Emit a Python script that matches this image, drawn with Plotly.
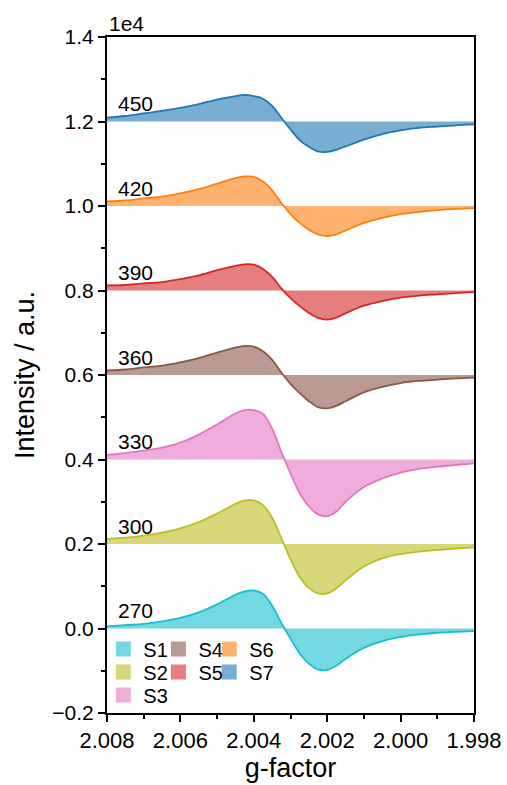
import plotly.graph_objects as go

# g-factor sample points (shared by all spectra)
g = [2.0080, 2.0075, 2.0070, 2.0065, 2.0060, 2.0055, 2.0050, 2.0045, 2.00425, 2.0040,
     2.00375, 2.0035, 2.00325, 2.0030, 2.00275, 2.0025, 2.00225, 2.0020, 2.00175, 2.0015,
     2.0010, 2.0005, 2.0000, 1.9995, 1.9990, 1.9985, 1.9980]

# intensity (x1e4) relative to each spectrum's own baseline
S1 = [0.005, 0.008, 0.011, 0.017, 0.025, 0.038, 0.057, 0.080, 0.088, 0.090,
      0.082, 0.054, 0.013, -0.024, -0.059, -0.083, -0.097, -0.098, -0.088, -0.072,
      -0.046, -0.030, -0.020, -0.014, -0.010, -0.008, -0.006]
S2 = [0.012, 0.015, 0.020, 0.027, 0.037, 0.052, 0.072, 0.095, 0.103, 0.103,
      0.092, 0.062, 0.014, -0.036, -0.078, -0.104, -0.117, -0.117, -0.105, -0.086,
      -0.053, -0.034, -0.024, -0.018, -0.014, -0.011, -0.008]
S3 = [0.011, 0.015, 0.021, 0.028, 0.040, 0.059, 0.083, 0.109, 0.117, 0.117,
      0.108, 0.073, 0.018, -0.033, -0.080, -0.111, -0.130, -0.134, -0.123, -0.100,
      -0.065, -0.045, -0.031, -0.022, -0.017, -0.013, -0.009]
S4 = [0.011, 0.013, 0.018, 0.022, 0.030, 0.040, 0.053, 0.065, 0.069, 0.067,
      0.056, 0.036, 0.006, -0.021, -0.043, -0.062, -0.076, -0.079, -0.073, -0.062,
      -0.041, -0.028, -0.019, -0.014, -0.011, -0.008, -0.006]
S5 = [0.012, 0.013, 0.017, 0.020, 0.027, 0.036, 0.048, 0.058, 0.062, 0.061,
      0.051, 0.032, 0.005, -0.018, -0.037, -0.053, -0.065, -0.069, -0.064, -0.054,
      -0.036, -0.025, -0.017, -0.012, -0.009, -0.006, -0.004]
S6 = [0.011, 0.013, 0.018, 0.022, 0.030, 0.040, 0.053, 0.066, 0.070, 0.069,
      0.058, 0.037, 0.007, -0.019, -0.040, -0.056, -0.067, -0.071, -0.067, -0.058,
      -0.040, -0.028, -0.019, -0.014, -0.010, -0.007, -0.005]
S7 = [0.009, 0.013, 0.019, 0.025, 0.032, 0.041, 0.052, 0.060, 0.063, 0.060,
      0.054, 0.037, 0.009, -0.019, -0.044, -0.060, -0.071, -0.072, -0.067, -0.059,
      -0.043, -0.030, -0.021, -0.015, -0.012, -0.009, -0.007]

series = [S1, S2, S3, S4, S5, S6, S7]
names = ["S1", "S2", "S3", "S4", "S5", "S6", "S7"]
temps = ["270", "300", "330", "360", "390", "420", "450"]
offsets = [0.0, 0.2, 0.4, 0.6, 0.8, 1.0, 1.2]
line_colors = ["#17becf", "#bcbd22", "#e377c2", "#8c564b", "#d62728", "#ff7f0e", "#1f77b4"]
fill_colors = ["rgba(23,190,207,0.6)", "rgba(188,189,34,0.6)", "rgba(227,119,194,0.6)",
               "rgba(140,86,75,0.6)", "rgba(214,39,40,0.6)", "rgba(255,127,14,0.6)",
               "rgba(31,119,180,0.6)"]

# legend placement: (legend id, paper x, paper y)
legend_slots = [("legend", -0.010, 0.0946), ("legend2", -0.010, 0.0606), ("legend3", -0.010, 0.0266),
                ("legend4", 0.140, 0.0946), ("legend5", 0.140, 0.0606),
                ("legend6", 0.2786, 0.0946), ("legend7", 0.2786, 0.0606)]

FONT = "Liberation Sans, Arial, sans-serif"
fig = go.Figure()

for i, (vals, off) in enumerate(zip(series, offsets)):
    fig.add_trace(go.Scatter(x=g, y=[off] * len(g), mode="lines", line=dict(width=0),
                             showlegend=False, hoverinfo="skip"))
    fig.add_trace(go.Scatter(x=g, y=[off + v for v in vals], mode="lines",
                             line=dict(color=line_colors[i], width=1.8, shape="spline", smoothing=1.0),
                             fill="tonexty", fillcolor=fill_colors[i], showlegend=False))
    fig.add_annotation(x=2.00775, y=off + 0.042, text=temps[i], showarrow=False,
                       xanchor="left", yanchor="middle", font=dict(size=21, color="black", family=FONT))

# legend-only patches
for i, name in enumerate(names):
    lid = legend_slots[i][0]
    fig.add_trace(go.Scatter(x=[None], y=[None], mode="markers", name=name,
                             marker=dict(symbol="square", size=15, color=fill_colors[i]),
                             showlegend=True, legend=lid))

leg_layout = {}
for lid, lx, ly in legend_slots:
    leg_layout[lid] = dict(x=lx, y=ly, xanchor="left", yanchor="middle", bgcolor="rgba(0,0,0,0)",
                           borderwidth=0, font=dict(size=20, color="black", family=FONT))

fig.add_annotation(xref="paper", yref="paper", x=0, y=1, text="1e4", showarrow=False,
                   xanchor="left", yanchor="bottom", font=dict(size=21, color="black", family=FONT))

fig.update_layout(
    width=507, height=785,
    margin=dict(l=107, r=33, t=37, b=72, autoexpand=False),
    plot_bgcolor="white", paper_bgcolor="white",
    font=dict(family=FONT, color="black"),
    **leg_layout,
)
fig.update_xaxes(range=[2.008, 1.998], tick0=1.998, dtick=0.002, tickformat=".3f",
                 ticks="outside", ticklen=7, tickwidth=2, tickcolor="black", automargin=False,
                 minor=dict(dtick=0.001, ticks="outside", ticklen=4, tickwidth=2, tickcolor="black"),
                 showline=True, linewidth=2, linecolor="black", mirror=True, showgrid=False, zeroline=False,
                 tickfont=dict(size=22), title=dict(text="g-factor", font=dict(size=27), standoff=6))
fig.update_yaxes(range=[-0.2, 1.4], tick0=0, dtick=0.2, tickformat=".1f",
                 ticks="outside", ticklen=7, tickwidth=2, tickcolor="black", automargin=False,
                 minor=dict(dtick=0.1, ticks="outside", ticklen=4, tickwidth=2, tickcolor="black"),
                 showline=True, linewidth=2, linecolor="black", mirror=True, showgrid=False, zeroline=False,
                 tickfont=dict(size=21), title=dict(text="Intensity / a.u.", font=dict(size=27), standoff=10))

fig.write_html("out.html")
